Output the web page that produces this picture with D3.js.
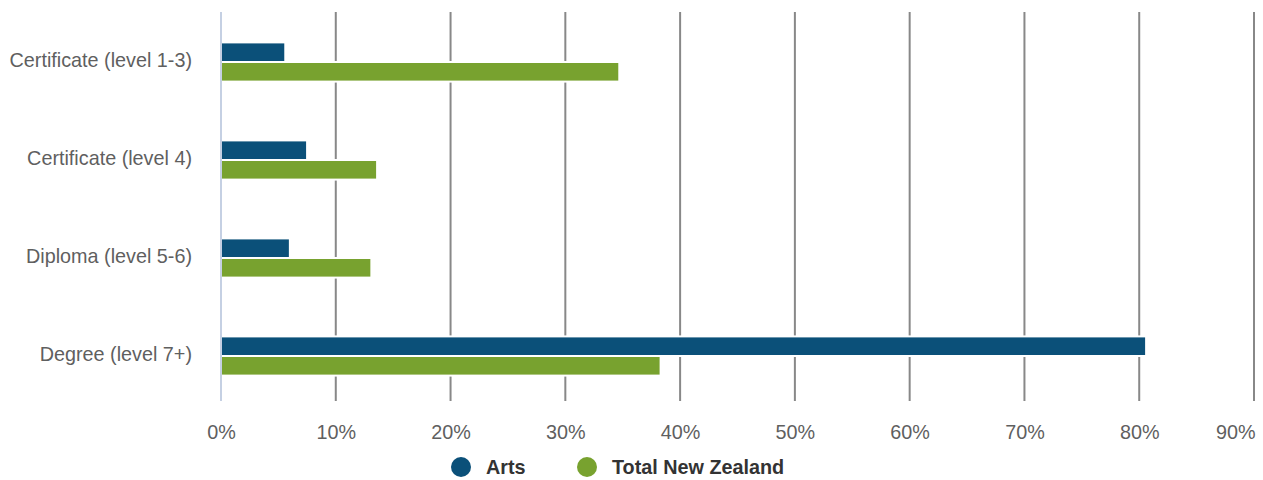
<!DOCTYPE html>
<html><head><meta charset="utf-8">
<script src="https://cdn.jsdelivr.net/npm/d3@7"></script>
<style>body{margin:0;background:#fff;}svg{display:block;font-family:"Liberation Sans",Arial,sans-serif;}</style>
</head><body><svg id="c" width="1263" height="480"></svg>
<script>
const categories = ["Certificate (level 1-3)", "Certificate (level 4)", "Diploma (level 5-6)", "Degree (level 7+)"];
const seriesNames = ["Arts", "Total New Zealand"];
const arts = [5.6, 7.5, 6.0, 80.6];
const totalNZ = [34.7, 13.6, 13.1, 38.3];
const colors = ["#0b5079", "#78a22f"];
const xTicks = [0,10,20,30,40,50,60,70,80,90];

const svg = d3.select("#c");
const m = {left:221, right:1254, top:12, bottom:401};
const x = d3.scaleLinear().domain([0,90]).range([m.left, m.right]);
const y = d3.scaleBand().domain(categories).range([13, 405]).paddingInner(0.6).paddingOuter(0.3);
const ys = d3.scaleBand().domain(seriesNames).range([0, y.bandwidth()]).padding(0);
const FS = 19.8;

// gridlines
svg.append("g").selectAll("line").data(xTicks.slice(1)).join("line")
  .attr("x1", d=>x(d)).attr("x2", d=>x(d)).attr("y1", m.top).attr("y2", m.bottom)
  .attr("stroke", "#888").attr("stroke-width", 2);

const data = categories.map((c,i)=>({c, vals:[arts[i], totalNZ[i]]}));
const g = svg.append("g").selectAll("g").data(data).join("g")
  .attr("transform", d=>`translate(0,${y(d.c)})`);
g.selectAll("rect").data(d=>d.vals.map((v,j)=>({v, s:seriesNames[j], j}))).join("rect")
  .attr("x", x(0)).attr("y", d=>ys(d.s)).attr("width", d=>x(d.v)-x(0)).attr("height", ys.bandwidth())
  .attr("fill", d=>colors[d.j]).attr("stroke", "#fff").attr("stroke-width", 2);

// y axis line
svg.append("line").attr("x1", x(0)).attr("x2", x(0)).attr("y1", m.top).attr("y2", m.bottom)
  .attr("stroke", "#c5d0e3").attr("stroke-width", 2);

// category labels
svg.append("g").selectAll("text").data(categories).join("text")
  .attr("x", 192).attr("y", d=>y(d)+y.bandwidth()/2 - 2).attr("dy", "0.35em")
  .attr("text-anchor", "end").attr("fill", "#5f5f5f").attr("font-size", FS).text(d=>d);

// x tick labels
const xa = svg.append("g").attr("transform", `translate(0,${m.bottom})`)
  .call(d3.axisBottom(x).tickValues(xTicks).tickFormat(d=>d+"%").tickSize(0).tickPadding(24));
xa.select(".domain").remove();
xa.selectAll("text").attr("fill", "#5f5f5f").attr("font-size", FS).attr("font-family", "Liberation Sans, Arial, sans-serif");
xa.selectAll(".tick").filter(d=>d===90).select("text").attr("text-anchor", "end").attr("dx", 1);

// legend
const legX = [461, 587];
const lg = svg.append("g").selectAll("g").data(seriesNames).join("g")
  .attr("transform", (d,i)=>`translate(${legX[i]},467)`);
lg.append("circle").attr("r", 10).attr("fill", (d,i)=>colors[i]);
lg.append("text").attr("x", 25).attr("dy", "0.35em").attr("font-size", FS).attr("font-weight", "bold")
  .attr("fill", "#333").text(d=>d);
</script></body></html>
